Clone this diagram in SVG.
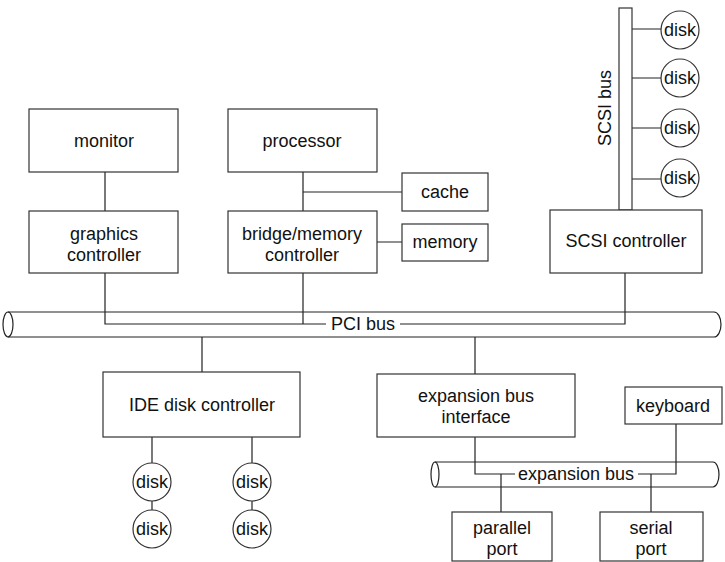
<svg xmlns="http://www.w3.org/2000/svg" width="725" height="562" viewBox="0 0 725 562">
<style>
.b{fill:#fff;stroke:#333;stroke-width:1.2}
.l{fill:none;stroke:#222;stroke-width:1.2}
text{font-family:"Liberation Sans",Arial,sans-serif;font-size:18px;fill:#111;text-anchor:middle}
.d{font-size:18px}
</style>
<rect width="725" height="562" fill="#fff"/>
<g id="connectors">
<path class="l" d="M105,172V211M303,172V211M303,192H402M377,242H402"/>
<path class="l" d="M632,29H661M632,78H661M632,128H661M632,179H661"/>
<path class="l" d="M105,273V324H326M400,324H625V273M303,273V324"/>
<path class="l" d="M202,337V372M475,337V374M475,437V474H515M638,474H676V424"/>
<path class="l" d="M501,474V512M651,474V512"/>
<path class="l" d="M152,437V463M252,437V463M152,501V510M252,501V510"/>
</g>
<g id="pci-bus">
<path class="l" d="M8,312H714A7,12.5 0 0 1 714,337H8"/>
<ellipse class="l" cx="8" cy="324.5" rx="5" ry="12.5"/>
<text x="363" y="330">PCI bus</text>
</g>
<g id="expansion-bus">
<path class="l" d="M435,462H713A6,12.5 0 0 1 713,487H435"/>
<ellipse class="l" cx="435" cy="474.5" rx="4" ry="12.5"/>
<text x="576" y="480">expansion bus</text>
</g>
<g id="scsi-bus">
<rect class="b" x="619" y="8" width="13" height="202"/>
<text transform="translate(611,108) rotate(-90)">SCSI bus</text>
</g>
<g id="monitor"><rect class="b" x="29" y="109" width="149" height="63"/><text x="104" y="147">monitor</text></g>
<g id="processor"><rect class="b" x="228" y="109" width="149" height="63"/><text x="302" y="147">processor</text></g>
<g id="cache"><rect class="b" x="402" y="173" width="86" height="38"/><text x="445" y="198">cache</text></g>
<g id="memory"><rect class="b" x="402" y="224" width="86" height="37"/><text x="445" y="248">memory</text></g>
<g id="graphics-controller"><rect class="b" x="29" y="211" width="149" height="62"/><text x="104" y="240">graphics</text><text x="104" y="261">controller</text></g>
<g id="bridge-memory-controller"><rect class="b" x="228" y="211" width="149" height="62"/><text x="302" y="240">bridge/memory</text><text x="302" y="261">controller</text></g>
<g id="scsi-controller"><rect class="b" x="550" y="210" width="152" height="63"/><text x="626" y="247">SCSI controller</text></g>
<g id="scsi-disk1"><circle class="b" cx="680" cy="30" r="19"/><text class="d" x="680" y="36">disk</text></g>
<g id="scsi-disk2"><circle class="b" cx="680" cy="78" r="19"/><text class="d" x="680" y="84">disk</text></g>
<g id="scsi-disk3"><circle class="b" cx="680" cy="128" r="19"/><text class="d" x="680" y="134">disk</text></g>
<g id="scsi-disk4"><circle class="b" cx="680" cy="178" r="19"/><text class="d" x="680" y="184">disk</text></g>
<g id="ide-disk-controller"><rect class="b" x="103" y="372" width="197" height="65"/><text x="202" y="411">IDE disk controller</text></g>
<g id="expansion-bus-interface"><rect class="b" x="377" y="374" width="198" height="63"/><text x="476" y="402">expansion bus</text><text x="476" y="423">interface</text></g>
<g id="keyboard"><rect class="b" x="625" y="387" width="97" height="37"/><text x="673" y="412">keyboard</text></g>
<g id="ide-disk1"><circle class="b" cx="152" cy="482" r="19"/><text class="d" x="152" y="488">disk</text></g>
<g id="ide-disk2"><circle class="b" cx="152" cy="529" r="19"/><text class="d" x="152" y="535">disk</text></g>
<g id="ide-disk3"><circle class="b" cx="252" cy="482" r="19"/><text class="d" x="252" y="488">disk</text></g>
<g id="ide-disk4"><circle class="b" cx="252" cy="529" r="19"/><text class="d" x="252" y="535">disk</text></g>
<g id="parallel-port"><rect class="b" x="452" y="512" width="100" height="49"/><text x="502" y="534">parallel</text><text x="502" y="555">port</text></g>
<g id="serial-port"><rect class="b" x="600" y="512" width="103" height="49"/><text x="651" y="534">serial</text><text x="651" y="555">port</text></g>
</svg>
